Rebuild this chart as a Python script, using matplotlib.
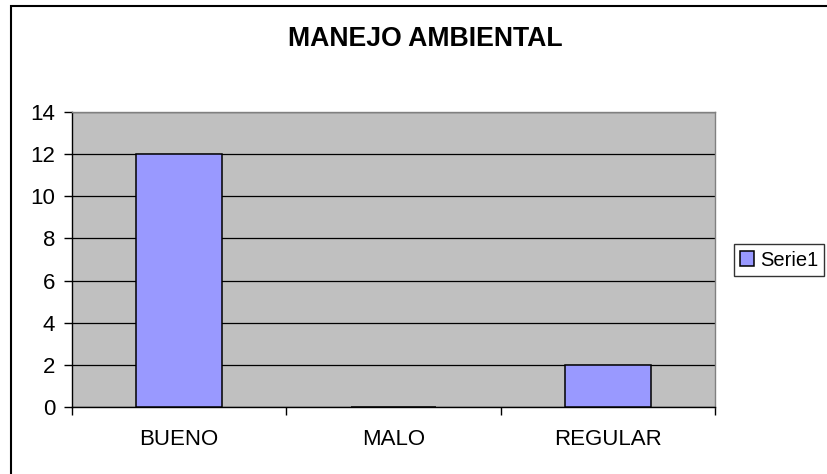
import matplotlib
matplotlib.use("Agg")
import matplotlib.pyplot as plt
from matplotlib.patches import Rectangle

categories = ["BUENO", "MALO", "REGULAR"]
values = [12, 0, 2]
series_name = "Serie1"
yticks = [0, 2, 4, 6, 8, 10, 12, 14]

plt.rcParams["font.family"] = ["Liberation Sans", "DejaVu Sans"]

fig = plt.figure(figsize=(8.27, 4.74), dpi=100)

# outer chart frame (runs off the right/bottom edge like the original)
fig.patches.append(Rectangle((10.5 / 827, -0.05), 1.0, (474 - 6.5) / 474 + 0.05,
                             transform=fig.transFigure, fill=False,
                             edgecolor="black", linewidth=1.5))

ax = fig.add_axes([72 / 827, (474 - 407) / 474, 643 / 827, 295 / 474])
ax.set_facecolor("#C0C0C0")

x = range(len(categories))
ax.bar(x, values, width=0.4, color="#9999FF", edgecolor="black",
       linewidth=1.1, label=series_name, zorder=3)

ax.set_xlim(-0.5, len(categories) - 0.5)
ax.set_ylim(0, 14)
ax.set_yticks(yticks)
ax.set_yticklabels([str(t) for t in yticks], fontsize=16)
ax.yaxis.grid(True, color="black", linewidth=0.9, zorder=1)
ax.set_axisbelow(True)

# category labels centred, tick marks on the boundaries
ax.set_xticks([i - 0.5 for i in range(len(categories) + 1)])
ax.set_xticklabels([])
ax.set_xticks(list(x), minor=True)
ax.set_xticklabels(categories, minor=True, fontsize=16)
ax.tick_params(axis="x", which="minor", length=0, pad=16)
ax.tick_params(axis="x", which="major", length=6, width=1, direction="out")
ax.tick_params(axis="y", length=6, width=1, direction="out", pad=6)

for side in ("top", "right"):
    ax.spines[side].set_color("#808080")
    ax.spines[side].set_linewidth(1.0)
for side in ("left", "bottom"):
    ax.spines[side].set_color("black")
    ax.spines[side].set_linewidth(1.0)

fig.text(425 / 827, 1 - 39 / 474, "MANEJO AMBIENTAL", ha="center", va="center",
         fontsize=19.2, fontweight="bold")

leg = fig.legend(loc="center left", bbox_to_anchor=(734 / 827, 1 - 260 / 474),
                 fontsize=14.5, frameon=True, fancybox=False,
                 handlelength=0.7, handleheight=0.7, handletextpad=0.3,
                 borderpad=0.3, borderaxespad=0)
leg.get_frame().set_edgecolor("black")
leg.get_frame().set_linewidth(1.0)

fig.savefig("out.png", dpi=100)
